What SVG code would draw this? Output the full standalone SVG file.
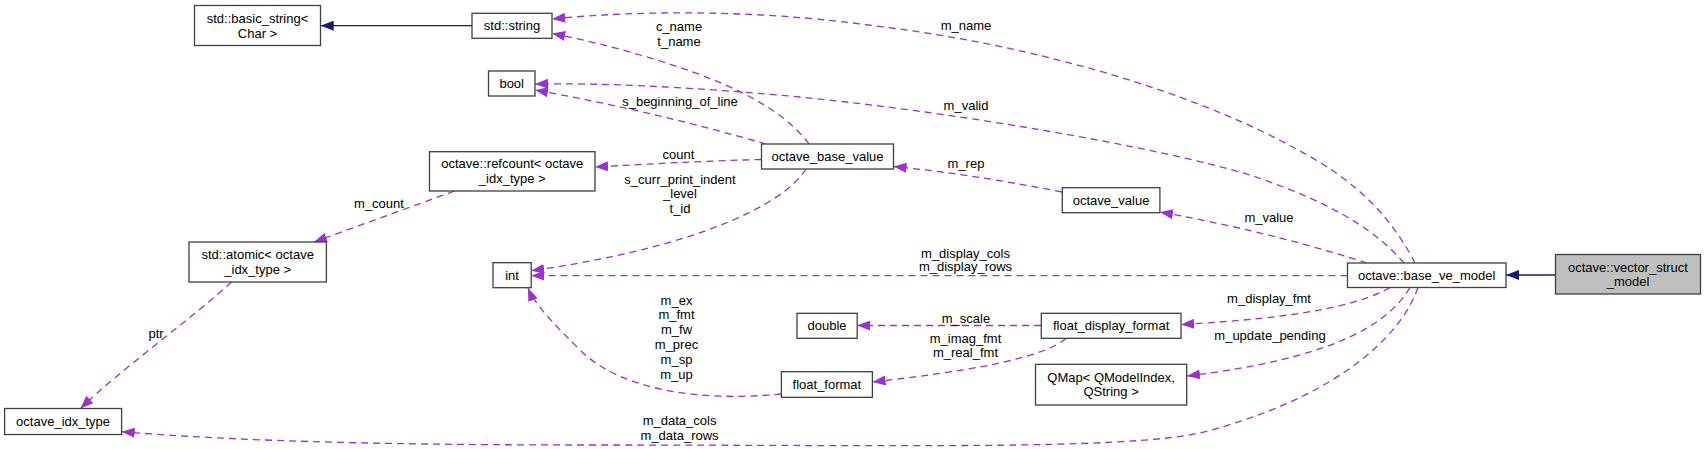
<svg xmlns="http://www.w3.org/2000/svg" width="1704" height="449" viewBox="0 0 1704 449">
<style>
  text { font-family: "Liberation Sans", Arial, sans-serif; font-size: 13px; fill: #000; text-anchor: middle; }
  .node rect { fill: #ffffff; stroke: #404040; stroke-width: 1.3; }
  .node.cur rect { fill: #bfbfbf; }
  .e { fill: none; stroke: #9a32cd; stroke-width: 1.3; stroke-dasharray: 7,5; marker-end: url(#pa); }
  .inh { fill: none; stroke: #191970; stroke-width: 1.3; marker-end: url(#na); }
</style>
<defs>
  <marker id="pa" viewBox="0 0 13 10" refX="13" refY="5" markerWidth="13" markerHeight="10" markerUnits="userSpaceOnUse" orient="auto">
    <path d="M0,0 L13,5 L0,10 z" fill="#9a32cd" stroke="none"/>
  </marker>
  <marker id="na" viewBox="0 0 13 10" refX="13" refY="5" markerWidth="13" markerHeight="10" markerUnits="userSpaceOnUse" orient="auto">
    <path d="M0,0 L13,5 L0,10 z" fill="#191970" stroke="none"/>
  </marker>
</defs>
<rect width="1704" height="449" fill="#ffffff"/>

<g id="edges">
  <path class="inh" d="M472,25.7 L320.7,25.7"/>
  <path class="inh" d="M1555.5,275 L1506,275"/>
  <path class="e" d="M1415,263 C1395,225 1365,185 1298,150 C1200,95 1040,45 868,25 C760,10 640,10 552.2,19"/>
  <path class="e" d="M1404,263 C1380,235 1340,205 1250,175 C1150,145 950,112 800,97 C680,86 600,83 535,84"/>
  <path class="e" d="M1367,263 C1320,248 1250,228 1160,212"/>
  <path class="e" d="M1347.5,275.7 L531.2,275.7"/>
  <path class="e" d="M1390,287.5 C1360,305 1300,318 1181,324.5"/>
  <path class="e" d="M1410,287.5 C1385,330 1320,360 1187,376"/>
  <path class="e" d="M1418,287.5 C1400,340 1330,400 1200,433 C1120,450 900,445 600,445 C400,445 250,442 121.7,431.7"/>
  <path class="e" d="M806,169 C780,210 680,250 531.2,270.7"/>
  <path class="e" d="M761.5,159.5 C700,161 650,164 595,167"/>
  <path class="e" d="M1062,192 C1000,180 950,172 893.5,166.5"/>
  <path class="e" d="M809,144 C780,105 720,78 640,55 C610,46 580,39 552.2,33.5"/>
  <path class="e" d="M766,144 C700,125 620,105 535,90"/>
  <path class="e" d="M454.6,191 L314,242"/>
  <path class="e" d="M231.5,282 C190,320 120,370 80.5,408.5"/>
  <path class="e" d="M1041,325.5 L857.2,325.5"/>
  <path class="e" d="M1066,338.5 C1040,360 960,372 872.5,382"/>
  <path class="e" d="M781.4,394 C700,402 620,390 580,350 C555,325 535,305 528,288"/>

  <text x="966" y="29.5">m_name</text>
  <text x="679" y="31.2">c_name</text>
  <text x="679" y="46.2">t_name</text>
  <text x="680" y="106.2">s_beginning_of_line</text>
  <text x="966" y="109.5">m_valid</text>
  <text x="678.5" y="158.5">count</text>
  <text x="680" y="183.5">s_curr_print_indent</text>
  <text x="680" y="198.2">_level</text>
  <text x="680" y="213.2">t_id</text>
  <text x="966" y="167.8">m_rep</text>
  <text x="379" y="207.8">m_count</text>
  <text x="1269" y="222.2">m_value</text>
  <text x="965.5" y="257.8">m_display_cols</text>
  <text x="965.5" y="271.2">m_display_rows</text>
  <text x="1269" y="302.5">m_display_fmt</text>
  <text x="676.5" y="304.5">m_ex</text>
  <text x="676.5" y="319.3">m_fmt</text>
  <text x="676.5" y="334.1">m_fw</text>
  <text x="676.5" y="348.9">m_prec</text>
  <text x="676.5" y="363.7">m_sp</text>
  <text x="676.5" y="378.5">m_up</text>
  <text x="966" y="322.8">m_scale</text>
  <text x="965.5" y="342.8">m_imag_fmt</text>
  <text x="965.5" y="357.2">m_real_fmt</text>
  <text x="1270" y="339.5">m_update_pending</text>
  <text x="156" y="337.8">ptr</text>
  <text x="679.6" y="425.2">m_data_cols</text>
  <text x="679.6" y="439.5">m_data_rows</text>
</g>

<g id="n_basic_string" class="node">
  <rect x="194.5" y="5.5" width="126" height="40"/>
  <text x="257.5" y="22.8">std::basic_string&lt;</text>
  <text x="257.5" y="37.8">Char &gt;</text>
</g>
<g id="n_std_string" class="node">
  <rect x="472" y="13.3" width="80" height="25"/>
  <text x="512" y="30.3">std::string</text>
</g>
<g id="n_bool" class="node">
  <rect x="488.5" y="71" width="46.5" height="25"/>
  <text x="511.7" y="88">bool</text>
</g>
<g id="n_refcount" class="node">
  <rect x="429.5" y="151.7" width="165.5" height="39.3"/>
  <text x="512.3" y="167.8">octave::refcount&lt; octave</text>
  <text x="512.3" y="182.8">_idx_type &gt;</text>
</g>
<g id="n_atomic" class="node">
  <rect x="189" y="242" width="137.4" height="40"/>
  <text x="257.7" y="258.5">std::atomic&lt; octave</text>
  <text x="257.7" y="273.5">_idx_type &gt;</text>
</g>
<g id="n_octave_idx_type" class="node">
  <rect x="4.6" y="408.5" width="117" height="26"/>
  <text x="63.1" y="425.8">octave_idx_type</text>
</g>
<g id="n_int" class="node">
  <rect x="493" y="262.7" width="38.2" height="25"/>
  <text x="512.1" y="279.7">int</text>
</g>
<g id="n_octave_base_value" class="node">
  <rect x="761.5" y="144" width="132" height="25"/>
  <text x="827.5" y="161">octave_base_value</text>
</g>
<g id="n_octave_value" class="node">
  <rect x="1062.3" y="187.7" width="97.6" height="25"/>
  <text x="1111.1" y="204.7">octave_value</text>
</g>
<g id="n_base_ve_model" class="node">
  <rect x="1347.5" y="263" width="158.5" height="24.5"/>
  <text x="1426.7" y="279.8">octave::base_ve_model</text>
</g>
<g id="n_vector_struct_model" class="node cur">
  <rect x="1555.5" y="254.5" width="145" height="39.5"/>
  <text x="1628" y="271.8">octave::vector_struct</text>
  <text x="1628" y="286.2">_model</text>
</g>
<g id="n_double" class="node">
  <rect x="797" y="313.3" width="60.2" height="25"/>
  <text x="827.1" y="330.3">double</text>
</g>
<g id="n_float_display_format" class="node">
  <rect x="1041.3" y="313.3" width="139.7" height="25"/>
  <text x="1111.1" y="330.3">float_display_format</text>
</g>
<g id="n_float_format" class="node">
  <rect x="781.4" y="371.7" width="91" height="25.6"/>
  <text x="826.9" y="389">float_format</text>
</g>
<g id="n_qmap" class="node">
  <rect x="1035.5" y="364.3" width="151.2" height="40.7"/>
  <text x="1111.1" y="381.8">QMap&lt; QModelIndex,</text>
  <text x="1111.1" y="395.5">QString &gt;</text>
</g>
</svg>
